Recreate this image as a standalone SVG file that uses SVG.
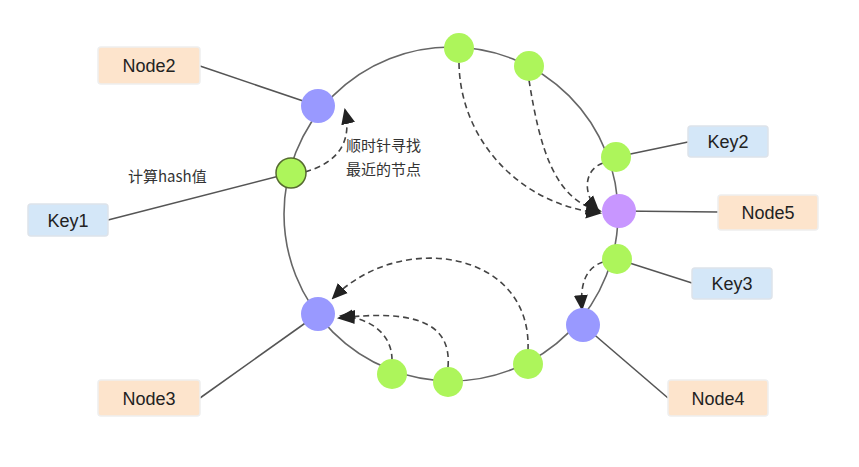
<svg xmlns="http://www.w3.org/2000/svg" width="859" height="467" viewBox="0 0 859 467">
<style>
.ring{fill:none;stroke:#666;stroke-width:1.6}
.ln{stroke:#555;stroke-width:1.6;fill:none}
.d{stroke:#444;stroke-width:1.6;fill:none;stroke-dasharray:6 4;marker-end:url(#a)}
.k{fill:#d4e7f8;stroke:#dde3ea;stroke-width:1.5}
.n{fill:#fde4cc;stroke:#eee;stroke-width:1.5}
.t{font-family:"Liberation Sans",Arial,sans-serif;font-size:18px;fill:#222;text-anchor:middle}
.c{font-family:"Noto Sans CJK SC",sans-serif;font-size:15px;fill:#333}
.g{fill:#adf55b}
.b{fill:#9999ff}
</style>
<defs><marker id="a" markerWidth="10" markerHeight="10" refX="8" refY="5" orient="auto" markerUnits="userSpaceOnUse" viewBox="0 0 10 10"><path d="M0,0L10,5L0,10z" fill="#222"/></marker>
<marker id="a2" markerWidth="16" markerHeight="16" refX="14" refY="8" orient="auto" markerUnits="userSpaceOnUse" viewBox="0 0 16 16"><path d="M0,1L16,8L0,15z" fill="#222"/></marker></defs>
<circle class="ring" cx="451" cy="214" r="167"/>
<g id="connectors">
<line class="ln" x1="200" y1="66" x2="318" y2="106"/>
<line class="ln" x1="108" y1="220" x2="291" y2="173"/>
<line class="ln" x1="200" y1="398" x2="318" y2="314"/>
<line class="ln" x1="668" y1="398" x2="583" y2="325"/>
<line class="ln" x1="692" y1="283" x2="617" y2="259"/>
<line class="ln" x1="718" y1="212" x2="619" y2="211"/>
<line class="ln" x1="688" y1="142" x2="616" y2="157"/>
<path class="d" style="marker-end:url(#a2)" d="M305,172 C340,162 352,140 345,110"/>
<path class="d" style="marker-end:url(#a2)" d="M459,63 C460,140 520,205 600,213"/>
<path class="d" style="marker-end:url(#a2)" d="M529,80 C540,150 555,200 600,211"/>
<path class="d" style="marker-end:url(#a2)" d="M603,163 C583,170 583,195 598,210"/>
<path class="d" style="marker-end:url(#a2)" d="M603,262 C585,268 580,285 582,309"/>
<path class="d" style="marker-end:url(#a2)" d="M528,350 C532,250 400,230 333,298"/>
<path class="d" style="marker-end:url(#a2)" d="M448,367 C452,320 410,310 339,318"/>
<path class="d" style="marker-end:url(#a2)" d="M392,360 C392,335 372,318 341,316"/>
</g>
<g id="ring-nodes">
<circle class="b" cx="318" cy="106" r="17"/>
<circle class="g" cx="291" cy="173" r="15" stroke="#556b2f" stroke-width="1.5"/>
<circle class="b" cx="318" cy="314" r="17"/>
<circle class="g" cx="392" cy="374" r="15"/>
<circle class="g" cx="448" cy="382" r="15"/>
<circle class="g" cx="528" cy="364" r="15"/>
<circle class="b" cx="583" cy="325" r="17"/>
<circle class="g" cx="617" cy="259" r="15"/>
<circle cx="619" cy="211" r="17" fill="#c896ff"/>
<circle class="g" cx="616" cy="157" r="15"/>
<circle class="g" cx="459" cy="48" r="15"/>
<circle class="g" cx="529" cy="66" r="15"/>
</g>
<g id="Node2"><rect class="n" x="98" y="47" width="102" height="37" rx="3"/><text class="t" x="149" y="72">Node2</text></g>
<g id="Key1"><rect class="k" x="28" y="204" width="80" height="32" rx="3"/><text class="t" x="68" y="227">Key1</text></g>
<g id="Node3"><rect class="n" x="98" y="380" width="102" height="36" rx="3"/><text class="t" x="149" y="405">Node3</text></g>
<g id="Node4"><rect class="n" x="668" y="380" width="100" height="36" rx="3"/><text class="t" x="718" y="405">Node4</text></g>
<g id="Key3"><rect class="k" x="692" y="268" width="80" height="31" rx="3"/><text class="t" x="732" y="290">Key3</text></g>
<g id="Node5"><rect class="n" x="718" y="195" width="100" height="35" rx="3"/><text class="t" x="768" y="219">Node5</text></g>
<g id="Key2"><rect class="k" x="688" y="126" width="80" height="31" rx="3"/><text class="t" x="728" y="148">Key2</text></g>
<text class="c" x="128" y="182">计算hash值</text>
<text class="c" x="346" y="151">顺时针寻找</text>
<text class="c" x="346" y="175">最近的节点</text>
</svg>
